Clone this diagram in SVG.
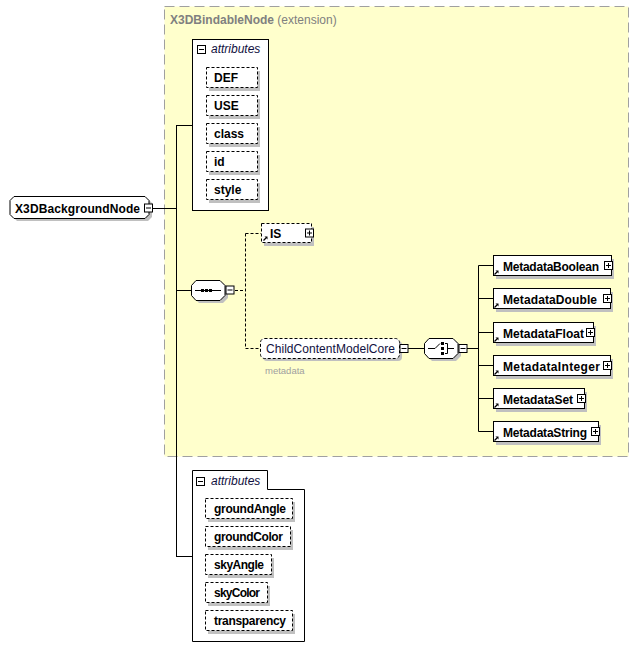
<svg xmlns="http://www.w3.org/2000/svg" xmlns:xlink="http://www.w3.org/1999/xlink" width="640" height="661" viewBox="0 0 640 661">
<style>
.t{font-family:"Liberation Sans",Arial,sans-serif;font-size:12px;fill:#000}
.b{font-weight:bold}
.it{font-style:italic;fill:#101040}
.box{fill:#fff;stroke:#000;stroke-width:1}
.dbox{fill:#fff;stroke:#000;stroke-width:1;stroke-dasharray:3,2}
.sh{fill:#c0c0c0;stroke:none}
.ln{fill:none;stroke:#000;stroke-width:1}
.dl{fill:none;stroke:#000;stroke-width:1;stroke-dasharray:3,2}
.pm{fill:#fff;stroke:#000;stroke-width:1}
</style>
<defs>
<g id="minus"><rect class="pm" x="0.5" y="0.5" width="8" height="8"/><path class="ln" d="M2,4.5H7"/></g>
<g id="plus"><rect class="pm" x="0.5" y="0.5" width="8" height="8"/><path class="ln" d="M2,4.5H7M4.5,2V7"/></g>
<g id="arrow"><path d="M0.5,4.5L3,2" stroke="#000" stroke-width="1.2" fill="none"/><path d="M1.5,0.5H4.5V3.5Z" fill="#000"/></g>
</defs>

<g id="extension">
<rect x="164.5" y="6.5" width="464" height="450" fill="#ffffcc" stroke="#a0a0a0" stroke-dasharray="10,5"/>
<text class="t" x="170" y="24" style="fill:#808080"><tspan font-weight="bold">X3DBindableNode</tspan> (extension)</text>
</g>

<g id="connectors">
<path class="ln" d="M153,208.5H176.5M176.5,125V557M176,125.5H192M176,290.5H191M176,556.5H192"/>
<path class="dl" d="M235,290.5H245.5M245.5,233.5V348.5M245.5,233.5H261M245.5,348.5H260"/>
<path class="ln" d="M408,348.5H424"/>
<path class="ln" d="M467,348.5H478.5M478.5,265.5V431.5M478.5,265.5H493M478.5,298.5H493M478.5,332.5H493M478.5,365.5H493M478.5,398.5H493M478.5,431.5H493"/>
</g>

<g id="X3DBackgroundNode">
<path class="sh" d="M17,199H148L152,203V217L148,221H17L13,217V203Z"/>
<path class="box" d="M14,196.5H145L149,200.5V214.5L145,218.5H14L10,214.5V200.5Z"/>
<text class="t b" x="15" y="213" textLength="125">X3DBackgroundNode</text>
<use xlink:href="#minus" x="144" y="203.5"/>
</g>

<g id="attributes1">
<rect class="box" x="192.5" y="39.5" width="76" height="171"/>
<use xlink:href="#minus" x="197" y="45"/>
<text class="t it" x="211" y="53">attributes</text>
</g>
<g id="attr-DEF"><rect class="sh" x="209" y="71" width="51" height="20"/><rect class="dbox" x="206.5" y="67.5" width="51" height="20"/><text class="t b" x="214" y="82">DEF</text></g>
<g id="attr-USE"><rect class="sh" x="209" y="99" width="51" height="20"/><rect class="dbox" x="206.5" y="95.5" width="51" height="20"/><text class="t b" x="214" y="110">USE</text></g>
<g id="attr-class"><rect class="sh" x="209" y="127" width="51" height="20"/><rect class="dbox" x="206.5" y="123.5" width="51" height="20"/><text class="t b" x="214" y="138">class</text></g>
<g id="attr-id"><rect class="sh" x="209" y="155" width="51" height="20"/><rect class="dbox" x="206.5" y="151.5" width="51" height="20"/><text class="t b" x="214" y="166">id</text></g>
<g id="attr-style"><rect class="sh" x="209" y="183" width="51" height="20"/><rect class="dbox" x="206.5" y="179.5" width="51" height="20"/><text class="t b" x="214" y="194">style</text></g>

<g id="sequence">
<path class="sh" d="M199,283H223L228,288V298L223,303H199L194,298V288Z"/>
<path class="box" d="M196,280.5H220L225,285.5V295.5L220,300.5H196L191.5,295.5V285.5Z"/>
<path class="ln" d="M195,290.5H221"/>
<rect x="201" y="289" width="3" height="3" fill="#000"/>
<rect x="205" y="289" width="3" height="3" fill="#000"/>
<rect x="209" y="289" width="3" height="3" fill="#000"/>
<use xlink:href="#minus" x="225.5" y="285.5"/>
</g>

<g id="IS">
<rect class="sh" x="264" y="227" width="50" height="19"/>
<rect class="dbox" x="261.5" y="223.5" width="50" height="19"/>
<text class="t b" x="270" y="238">IS</text>
<use xlink:href="#arrow" x="263" y="236"/>
<use xlink:href="#plus" x="305" y="228.5"/>
</g>

<g id="ChildContentModelCore">
<rect class="sh" x="263" y="341" width="139" height="20" rx="4"/>
<rect class="dbox" x="260.5" y="338.5" width="139" height="20" rx="4"/>
<text class="t" x="266" y="352.5" textLength="129" style="fill:#101040">ChildContentModelCore</text>
<use xlink:href="#minus" x="399.5" y="344"/>
<text x="265" y="374" font-family="Liberation Sans,Arial,sans-serif" font-size="9.5" fill="#a0a0a0">metadata</text>
</g>

<g id="choice">
<path class="sh" d="M432,341H456L461,346V356L456,361H432L427,356V346Z"/>
<path class="box" d="M429,338.5H453L458,343.5V353.5L453,358.5H429L424.5,353.5V343.5Z"/>
<path class="ln" d="M428,348.5H435L440,343.5"/>
<rect x="441" y="342" width="3" height="3" fill="#000"/>
<rect x="441" y="347" width="3" height="3" fill="#000"/>
<rect x="441" y="352" width="3" height="3" fill="#000"/>
<path class="ln" d="M445,343.5H447.5V353.5H445M447.5,348.5H454"/>
<use xlink:href="#minus" x="458.5" y="344"/>
</g>

<g id="MetadataBoolean"><rect class="sh" x="496" y="259" width="118" height="20"/><rect class="box" x="493.5" y="255.5" width="118" height="20"/><text class="t b" x="503" y="270.5" textLength="96">MetadataBoolean</text><use xlink:href="#arrow" x="494" y="270"/><use xlink:href="#plus" x="604" y="261"/></g>
<g id="MetadataDouble"><rect class="sh" x="496" y="292" width="117" height="20"/><rect class="box" x="493.5" y="288.5" width="117" height="20"/><text class="t b" x="503" y="303.5" textLength="94">MetadataDouble</text><use xlink:href="#arrow" x="494" y="303"/><use xlink:href="#plus" x="603" y="294"/></g>
<g id="MetadataFloat"><rect class="sh" x="496" y="326" width="100" height="20"/><rect class="box" x="493.5" y="322.5" width="100" height="20"/><text class="t b" x="503" y="337.5" textLength="81">MetadataFloat</text><use xlink:href="#arrow" x="494" y="337"/><use xlink:href="#plus" x="586" y="328"/></g>
<g id="MetadataInteger"><rect class="sh" x="496" y="359" width="117" height="20"/><rect class="box" x="493.5" y="355.5" width="117" height="20"/><text class="t b" x="503" y="370.5" textLength="97">MetadataInteger</text><use xlink:href="#arrow" x="494" y="370"/><use xlink:href="#plus" x="603" y="361"/></g>
<g id="MetadataSet"><rect class="sh" x="496" y="392" width="91" height="20"/><rect class="box" x="493.5" y="388.5" width="91" height="20"/><text class="t b" x="503" y="403.5" textLength="70">MetadataSet</text><use xlink:href="#arrow" x="494" y="403"/><use xlink:href="#plus" x="577" y="394"/></g>
<g id="MetadataString"><rect class="sh" x="496" y="425" width="105" height="20"/><rect class="box" x="493.5" y="421.5" width="105" height="20"/><text class="t b" x="503" y="436.5" textLength="84">MetadataString</text><use xlink:href="#arrow" x="494" y="436"/><use xlink:href="#plus" x="591" y="427"/></g>

<g id="attributes2">
<path class="box" d="M192.5,470.5H267.5V489.5H304.5V641.5H192.5Z"/>
<use xlink:href="#minus" x="196" y="477"/>
<text class="t it" x="211" y="485">attributes</text>
</g>
<g id="attr-groundAngle"><rect class="sh" x="208" y="502" width="87" height="20"/><rect class="dbox" x="205.5" y="498.5" width="87" height="20"/><text class="t b" x="214" y="513" textLength="72">groundAngle</text></g>
<g id="attr-groundColor"><rect class="sh" x="208" y="530" width="85" height="20"/><rect class="dbox" x="205.5" y="526.5" width="85" height="20"/><text class="t b" x="214" y="541" textLength="69">groundColor</text></g>
<g id="attr-skyAngle"><rect class="sh" x="208" y="558" width="66" height="20"/><rect class="dbox" x="205.5" y="554.5" width="66" height="20"/><text class="t b" x="214" y="569" textLength="50">skyAngle</text></g>
<g id="attr-skyColor"><rect class="sh" x="208" y="586" width="62" height="20"/><rect class="dbox" x="205.5" y="582.5" width="62" height="20"/><text class="t b" x="214" y="597" textLength="46">skyColor</text></g>
<g id="attr-transparency"><rect class="sh" x="208" y="614" width="87" height="20"/><rect class="dbox" x="205.5" y="610.5" width="87" height="20"/><text class="t b" x="214" y="625" textLength="72">transparency</text></g>
</svg>
